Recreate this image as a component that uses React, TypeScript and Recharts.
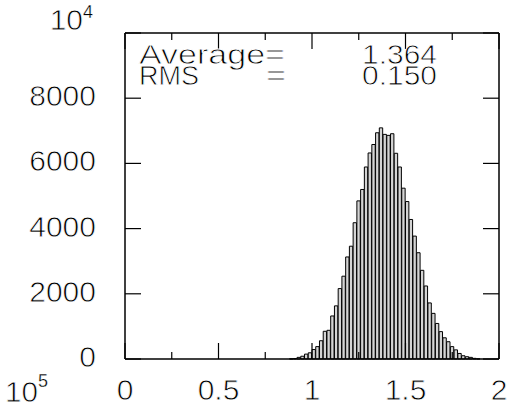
import React from 'react';
import { BarChart, Bar, XAxis, YAxis } from 'recharts';

// histogram: 100 bins of width 0.02 over [0, 2]
const binStarts = [
  0.00, 0.02, 0.04, 0.06, 0.08, 0.10, 0.12, 0.14, 0.16, 0.18,
  0.20, 0.22, 0.24, 0.26, 0.28, 0.30, 0.32, 0.34, 0.36, 0.38,
  0.40, 0.42, 0.44, 0.46, 0.48, 0.50, 0.52, 0.54, 0.56, 0.58,
  0.60, 0.62, 0.64, 0.66, 0.68, 0.70, 0.72, 0.74, 0.76, 0.78,
  0.80, 0.82, 0.84, 0.86, 0.88, 0.90, 0.92, 0.94, 0.96, 0.98,
  1.00, 1.02, 1.04, 1.06, 1.08, 1.10, 1.12, 1.14, 1.16, 1.18,
  1.20, 1.22, 1.24, 1.26, 1.28, 1.30, 1.32, 1.34, 1.36, 1.38,
  1.40, 1.42, 1.44, 1.46, 1.48, 1.50, 1.52, 1.54, 1.56, 1.58,
  1.60, 1.62, 1.64, 1.66, 1.68, 1.70, 1.72, 1.74, 1.76, 1.78,
  1.80, 1.82, 1.84, 1.86, 1.88, 1.90, 1.92, 1.94, 1.96, 1.98,
];
const BIN_WIDTH = 0.02;
const counts = [
  0, 0, 0, 0, 0, 0, 0, 0, 0, 0,
  0, 0, 0, 0, 0, 0, 0, 0, 0, 0,
  0, 0, 0, 0, 0, 0, 0, 0, 0, 0,
  0, 0, 0, 0, 0, 0, 0, 0, 0, 0,
  0, 0, 0, 0, 5, 15, 50, 85, 150, 190,
  290, 380, 560, 850, 880, 1320, 1630, 2160, 2540, 3130,
  3460, 4180, 4850, 5200, 5890, 6320, 6580, 6940, 7090, 6890,
  6860, 6910, 6310, 5890, 5240, 4830, 4280, 3770, 3260, 2720,
  2240, 1720, 1400, 1090, 840, 650, 530, 380, 280, 170,
  100, 70, 50, 20, 5, 0, 0, 0, 0, 0,
];
const xTicks = [0, 0.25, 0.5, 0.75, 1, 1.25, 1.5, 1.75, 2];
const xMajor = [0, 0.5, 1, 1.5, 2];
const yTicks = [0, 2000, 4000, 6000, 8000, 10000];
const statLabels = ['Average=', 'RMS'];
const statValues = ['1.364', '0.150'];

const data = binStarts.map((b, i) => ({ x: b + BIN_WIDTH / 2, count: counts[i] }));

const W = 529;
const H = 406;
const PLOT_L = 125;
const PLOT_R = 499;
const PLOT_T = 33;
const PLOT_B = 359;
// each visible axis takes 1px, so margins are 1px smaller
const M = { top: PLOT_T - 1, right: W - PLOT_R - 1, bottom: H - PLOT_B - 1, left: PLOT_L - 1 };
const BAR_PX = ((PLOT_R - PLOT_L) * BIN_WIDTH) / 2;
const FONT = "'Liberation Sans', Arial, sans-serif";
const INK = '#000';
// thin the glyphs a little (white halo drawn over the fill)
const THIN = { stroke: '#fff', strokeWidth: 0.8 };
const THIN_SMALL = { stroke: '#fff', strokeWidth: 0.3 };

const BottomTick = (props: any) => {
  const { x, payload } = props;
  const v = payload.value;
  const major = xMajor.includes(v);
  const len = major ? 16 : 7;
  return (
    <g>
      <line x1={x} x2={x} y1={PLOT_B} y2={PLOT_B - len} stroke="#000" strokeWidth={1.2} />
      <line x1={x} x2={x} y1={PLOT_T} y2={PLOT_T + len} stroke="#000" strokeWidth={1.2} />
      {major && (
        <text x={x} y={400} textAnchor="middle" fontFamily={FONT} fontSize={30} fill={INK} {...THIN}>
          {String(v)}
        </text>
      )}
    </g>
  );
};

const LeftTick = (props: any) => {
  const { y, payload } = props;
  const v = payload.value;
  return (
    <g>
      <line x1={PLOT_L} x2={PLOT_L + 16} y1={y} y2={y} stroke="#000" strokeWidth={1.2} />
      <line x1={PLOT_R} x2={PLOT_R - 16} y1={y} y2={y} stroke="#000" strokeWidth={1.2} />
      {v === 10000 ? (
        <g fontFamily={FONT} fill={INK}>
          <text x={83} y={y - 3} textAnchor="end" fontSize={30} {...THIN}>10</text>
          <text x={83} y={y - 15} fontSize={18} {...THIN_SMALL}>4</text>
        </g>
      ) : (
        <text x={96} y={y + 8} textAnchor="end" fontFamily={FONT} fontSize={30} fill={INK} {...THIN}>
          {String(v)}
        </text>
      )}
    </g>
  );
};

const axisLine = { stroke: '#000', strokeWidth: 1.5 };

export default function App() {
  return (
    <div style={{ position: 'absolute', left: 0, top: 0, width: W, height: H, background: '#fff' }}>
      <BarChart width={W} height={H} data={data} margin={M} barGap={0}>
        <XAxis
          xAxisId="bottom"
          dataKey="x"
          type="number"
          domain={[0, 2]}
          ticks={xTicks}
          interval={0}
          height={1}
          axisLine={axisLine}
          tickLine={false}
          tick={<BottomTick />}
        />
        <XAxis
          xAxisId="top"
          orientation="top"
          dataKey="x"
          type="number"
          domain={[0, 2]}
          height={1}
          axisLine={axisLine}
          tickLine={false}
          tick={false}
        />
        <YAxis
          yAxisId="left"
          domain={[0, 10000]}
          ticks={yTicks}
          interval={0}
          width={1}
          axisLine={axisLine}
          tickLine={false}
          tick={<LeftTick />}
        />
        <YAxis
          yAxisId="right"
          orientation="right"
          domain={[0, 10000]}
          width={1}
          axisLine={axisLine}
          tickLine={false}
          tick={false}
        />
        <Bar
          xAxisId="bottom"
          yAxisId="left"
          dataKey="count"
          barSize={BAR_PX}
          fill="#d4d4d4"
          stroke="#000"
          strokeWidth={1}
          isAnimationActive={false}
        />
      </BarChart>
      <svg
        width={W}
        height={H}
        style={{ position: 'absolute', left: 0, top: 0, pointerEvents: 'none' }}
        fontFamily={FONT}
        fill={INK}
      >
        <g {...THIN}>
          <text x={139} y={64} fontSize={27} textLength={146} lengthAdjust="spacingAndGlyphs">{statLabels[0]}</text>
          <text x={362} y={64} fontSize={27} textLength={75} lengthAdjust="spacingAndGlyphs">{statValues[0]}</text>
          <text x={139} y={85} fontSize={27} textLength={60} lengthAdjust="spacingAndGlyphs">{statLabels[1]}</text>
          <text x={266} y={85} fontSize={27} textLength={20} lengthAdjust="spacingAndGlyphs">=</text>
          <text x={362} y={85} fontSize={27} textLength={75} lengthAdjust="spacingAndGlyphs">{statValues[1]}</text>
          <text x={5} y={402} fontSize={30} textLength={33} lengthAdjust="spacingAndGlyphs">10</text>
        </g>
        <text x={38} y={387} fontSize={18} {...THIN_SMALL}>5</text>
      </svg>
    </div>
  );
}
